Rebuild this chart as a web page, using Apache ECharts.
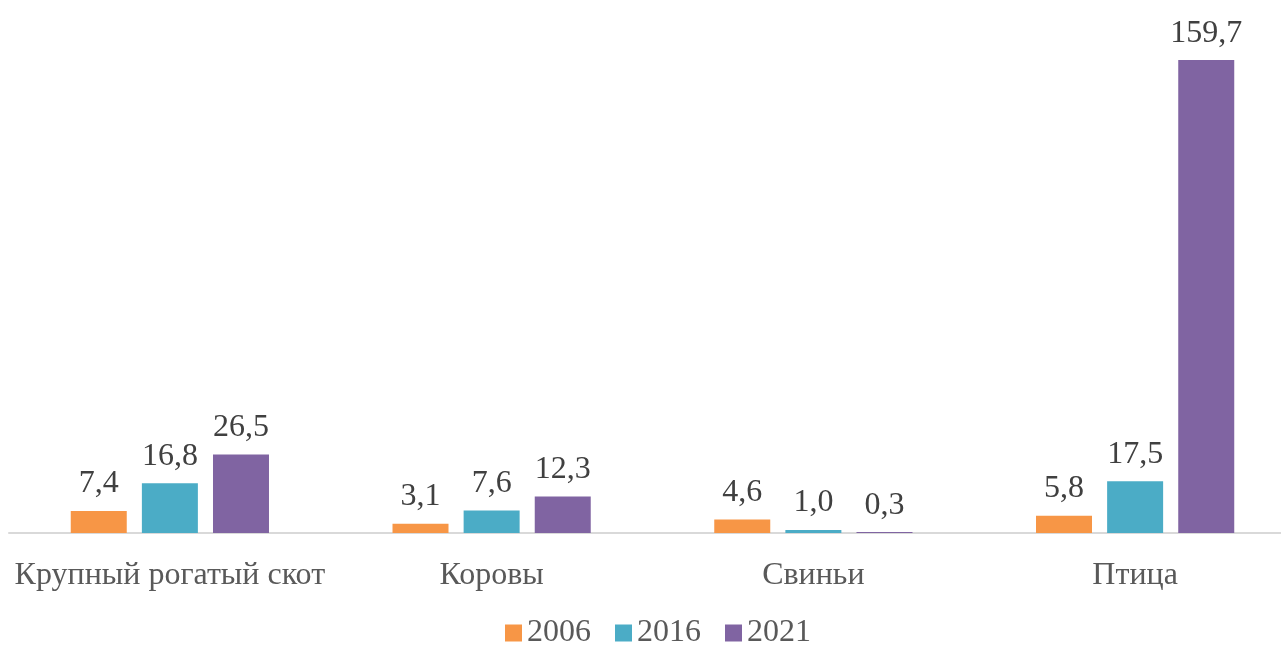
<!DOCTYPE html>
<html>
<head>
<meta charset="utf-8">
<script src="https://cdn.jsdelivr.net/npm/echarts@6/dist/echarts.min.js"></script>
<style>
  html, body { margin: 0; padding: 0; background: #fff; overflow: hidden; }
  #chart { width: 1300px; height: 646px; }
</style>
</head>
<body>
<div id="chart"></div>
<script>
const categories = ['Крупный рогатый скот', 'Коровы', 'Свиньи', 'Птица']
const years = ['2006', '2016', '2021']
const values2006 = [7.4, 3.1, 4.6, 5.8]
const values2016 = [16.8, 7.6, 1.0, 17.5]
const values2021 = [26.5, 12.3, 0.3, 159.7]
const colors = ['#F79646', '#4BACC6', '#8064A2']

const font = '"Liberation Serif", "Times New Roman", serif'
const chart = echarts.init(document.getElementById('chart'))

const seriesData = [values2006, values2016, values2021]

chart.setOption({
  animation: false,
  textStyle: { fontFamily: font },
  legend: {
    left: 500,
    top: 612,
    itemWidth: 17,
    itemHeight: 17,
    itemGap: 24,
    icon: 'rect',
    textStyle: { fontFamily: font, fontSize: 32, color: '#595959' },
    data: years,
  },
  grid: {
    left: 9,
    width: 1287,
    top: 0,
    bottom: 113,
  },
  xAxis: {
    type: 'category',
    data: categories,
    axisTick: { show: false },
    axisLine: { lineStyle: { color: '#D9D9D9', width: 2 } },
    axisLabel: { fontFamily: font, fontSize: 32, color: '#595959', margin: 27, interval: 0 },
  },
  yAxis: {
    type: 'value',
    min: 0,
    max: 180,
    show: false,
    splitLine: { show: false },
  },
  series: years.map((y, i) => ({
    name: y,
    type: 'bar',
    data: seriesData[i],
    barWidth: 56,
    barGap: '27%',
    itemStyle: { color: colors[i] },
    label: {
      show: true,
      position: 'top',
      distance: 11,
      fontFamily: font,
      fontSize: 32,
      color: '#404040',
      formatter: (p) => p.value.toFixed(1).replace('.', ','),
    },
  })),
})
</script>
</body>
</html>
